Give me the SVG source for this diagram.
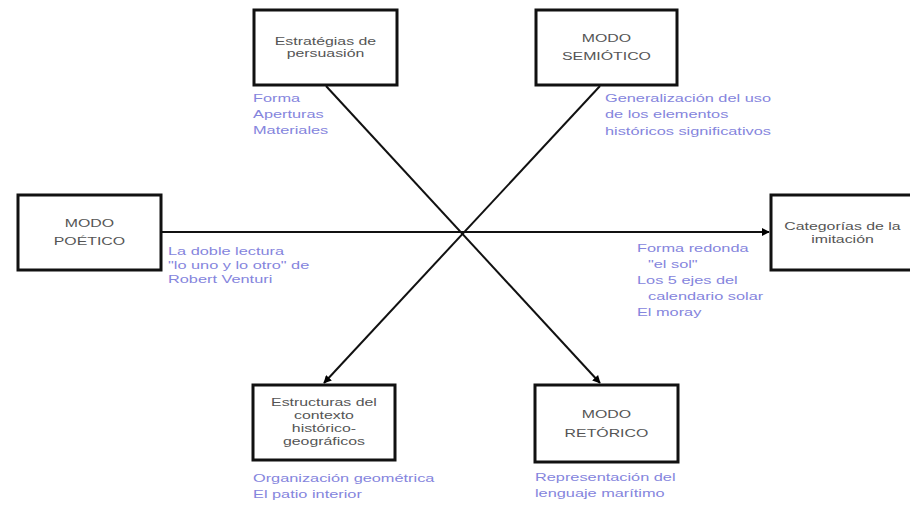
<svg xmlns="http://www.w3.org/2000/svg" width="910" height="506" viewBox="0 0 910 506">
  <defs>
    <marker id="arrow" viewBox="0 0 10 10" refX="9" refY="5" markerWidth="4" markerHeight="4" orient="auto" markerUnits="strokeWidth">
      <path d="M0,0 L10,5 L0,10 z" fill="#000"/>
    </marker>
    <style>
      .box rect { fill: #fff; stroke: #111; stroke-width: 3; }
      .box text { font-family: "Liberation Sans", Arial, sans-serif; font-size: 11.5px; fill: #555; text-anchor: middle;
                  transform-box: fill-box; transform-origin: center; transform: scaleX(1.38); }
      .note { font-family: "Liberation Sans", Arial, sans-serif; font-size: 11.5px; fill: #8585dd;
              transform-box: fill-box; transform-origin: left center; transform: scaleX(1.42); }
      .link { stroke: #111; stroke-width: 2; fill: none; }
    </style>
  </defs>
  <rect width="910" height="506" fill="#fff"/>

  <!-- connectors -->
  <g id="connectors">
    <line class="link" x1="326" y1="86" x2="600" y2="383" marker-end="url(#arrow)"/>
    <line class="link" x1="600" y1="86" x2="324" y2="383" marker-end="url(#arrow)"/>
    <line class="link" x1="162" y1="232" x2="769" y2="232" marker-end="url(#arrow)"/>
  </g>

  <!-- nodes -->
  <g id="estrategias" class="box">
    <rect x="254" y="10" width="143" height="75"/>
    <text x="325.5" y="45">Estratégias de</text>
    <text x="325.5" y="57">persuasión</text>
  </g>
  <g id="semiotico" class="box">
    <rect x="536" y="10" width="141" height="75"/>
    <text x="606.5" y="42">MODO</text>
    <text x="606.5" y="60">SEMIÓTICO</text>
  </g>
  <g id="poetico" class="box">
    <rect x="18" y="195" width="143" height="75"/>
    <text x="89.5" y="227">MODO</text>
    <text x="89.5" y="245">POÉTICO</text>
  </g>
  <g id="categorias" class="box">
    <rect x="771" y="195" width="143" height="75"/>
    <text x="842.5" y="230">Categorías de la</text>
    <text x="842.5" y="243">imitación</text>
  </g>
  <g id="estructuras" class="box">
    <rect x="253" y="385" width="142" height="75"/>
    <text x="324" y="406">Estructuras del</text>
    <text x="324" y="419">contexto</text>
    <text x="324" y="432">histórico-</text>
    <text x="324" y="445">geográficos</text>
  </g>
  <g id="retorico" class="box">
    <rect x="535" y="385" width="143" height="77"/>
    <text x="606.5" y="418">MODO</text>
    <text x="606.5" y="437">RETÓRICO</text>
  </g>

  <!-- notes beside each node -->
  <g id="notas">
    <text class="note" x="253" y="102">Forma</text>
    <text class="note" x="253" y="118">Aperturas</text>
    <text class="note" x="253" y="134">Materiales</text>

    <text class="note" x="605" y="102">Generalización del uso</text>
    <text class="note" x="605" y="118">de los elementos</text>
    <text class="note" x="605" y="135">históricos significativos</text>

    <text class="note" x="168" y="255">La doble lectura</text>
    <text class="note" x="168" y="269">"lo uno y lo otro" de</text>
    <text class="note" x="168" y="283">Robert Venturi</text>

    <text class="note" x="637" y="252">Forma redonda</text>
    <text class="note" x="648" y="268">"el sol"</text>
    <text class="note" x="637" y="284">Los 5 ejes del</text>
    <text class="note" x="648" y="300">calendario solar</text>
    <text class="note" x="637" y="316">El moray</text>

    <text class="note" x="253" y="482">Organización geométrica</text>
    <text class="note" x="253" y="498">El patio interior</text>

    <text class="note" x="535" y="481">Representación del</text>
    <text class="note" x="535" y="497">lenguaje marítimo</text>
  </g>
</svg>
